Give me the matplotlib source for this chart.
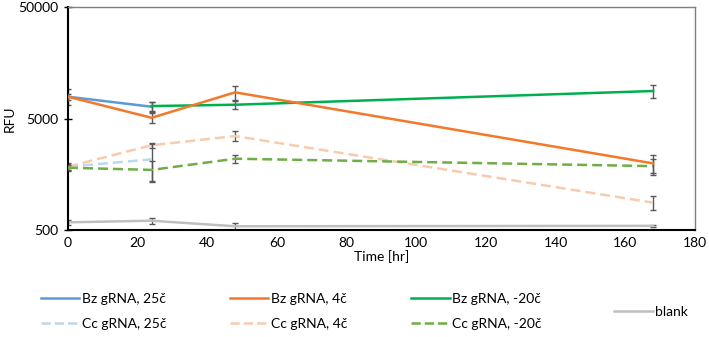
import numpy as np
import matplotlib
matplotlib.use('Agg')
import matplotlib.pyplot as plt
from matplotlib.lines import Line2D

# --- data ---
t_all = [0, 24, 48, 168]
t_short = [0, 24]
t_late = [24, 48, 168]

bz25 = [7850, 6380]
bz25_err = [1300, 600]
bz4 = [7850, 5080, 8590, 1980]
bz4_err = [500, 550, 1250, 360]
bz20 = [6470, 6650, 8830]
bz20_err = [600, 600, 1200]

cc25 = [1850, 2150]
cc25_err = [150, 790]
cc4 = [1850, 2880, 3480, 880]
cc4_err = [120, 150, 350, 120]
cc20 = [1810, 1730, 2180, 1870]
cc20_err = [100, 350, 170, 300]

blank = [586, 606, 540, 545]
blank_err = [30, 40, 35, 10]

plt.rcParams['font.family'] = ['Lato', 'DejaVu Sans']
fs = 10
fig = plt.figure(figsize=(7.09, 3.37), dpi=100)
ax = fig.add_axes([0.0959, 0.3175, 0.8841, 0.6615])

ecol = '#595959'
def series(x, y, e, color, label, dashed=False, z=2):
    ls = (0, (4, 2)) if dashed else '-'
    ax.errorbar(x, y, yerr=e, color=color, lw=1.8, ls=ls, label=label,
                ecolor=ecol, elinewidth=1, capsize=2.5, capthick=1, zorder=z)

series(t_short, bz25, bz25_err, '#5B9BD5', 'Bz gRNA, 25\u010d', z=2)
series(t_late, bz20, bz20_err, '#00B050', 'Bz gRNA, -20\u010d', z=3)
series(t_all, bz4, bz4_err, '#F4772A', 'Bz gRNA, 4\u010d', z=4)
series(t_short, cc25, cc25_err, '#BDD7EE', 'Cc gRNA, 25\u010d', dashed=True, z=2)
series(t_all, cc4, cc4_err, '#F8CBAD', 'Cc gRNA, 4\u010d', dashed=True, z=2)
series(t_all, cc20, cc20_err, '#70AD47', 'Cc gRNA, -20\u010d', dashed=True, z=3)
series(t_all, blank, blank_err, '#BFBFBF', 'blank', z=2)

ax.set_yscale('log')
ax.set_ylim(500, 50000)
ax.set_xlim(0, 180)
ax.set_yticks([500, 5000, 50000])
ax.set_yticklabels(['500', '5000', '50000'])
ax.yaxis.set_minor_locator(matplotlib.ticker.NullLocator())
ax.set_xticks(np.arange(0, 181, 20))
ax.tick_params(axis='x', length=0, labelsize=fs, pad=5)
ax.tick_params(axis='y', direction='inout', length=6, width=1, labelsize=fs, pad=4)
ax.set_xlabel('Time [hr]', fontsize=fs, labelpad=1)
ax.set_ylabel('RFU', fontsize=fs, labelpad=2)

for s in ['top', 'right']:
    ax.spines[s].set_color('#7F7F7F')
    ax.spines[s].set_linewidth(1)
for s in ['left', 'bottom']:
    ax.spines[s].set_color('black')
    ax.spines[s].set_linewidth(1.5)

# --- legend ---
handles, labels = ax.get_legend_handles_labels()
lookup = dict(zip(labels, handles))
order = ['Bz gRNA, 25\u010d', 'Cc gRNA, 25\u010d', 'Bz gRNA, 4\u010d',
         'Cc gRNA, 4\u010d', 'Bz gRNA, -20\u010d', 'Cc gRNA, -20\u010d']

def proxy(lbl):
    h = lookup[lbl][0]
    return Line2D([], [], color=h.get_color(), lw=1.8, ls=h.get_linestyle())

fig.legend([proxy(l) for l in order], order, ncol=3, loc='center left',
           bbox_to_anchor=(0.040, 0.0757), frameon=False, fontsize=fs,
           handlelength=2.75, handletextpad=0.2, columnspacing=4.6,
           labelspacing=0.95)
fig.legend([proxy('blank')], ['blank'], loc='center left',
           bbox_to_anchor=(0.849, 0.074), frameon=False, fontsize=fs,
           handlelength=2.75, handletextpad=0.2)

fig.savefig('out.png', dpi=100)
